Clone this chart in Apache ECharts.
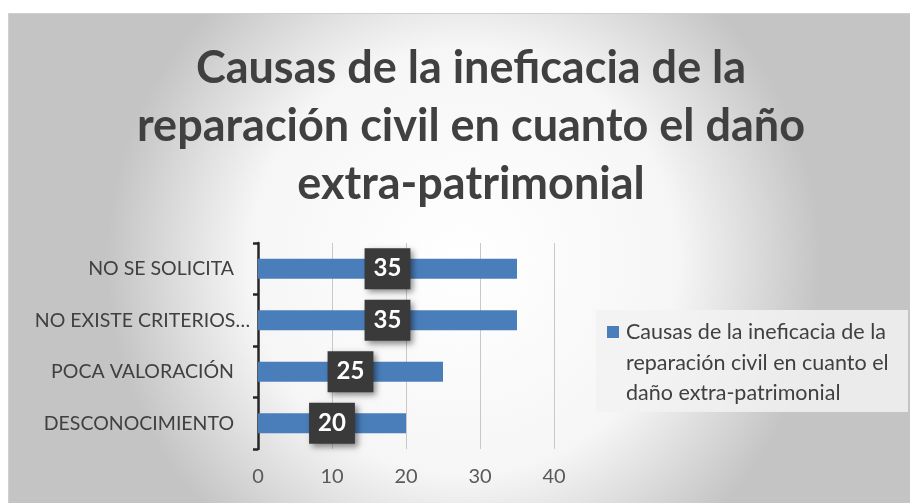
<!DOCTYPE html>
<html><head><meta charset="utf-8">
<script src="https://cdn.jsdelivr.net/npm/echarts@6/dist/echarts.min.js"></script>
<style>html,body{margin:0;padding:0;background:#fff}#c{width:910px;height:503px}</style>
</head><body><div id="c"></div>
<script>
const categories = ['DESCONOCIMIENTO', 'POCA VALORACIÓN', 'NO EXISTE CRITERIOS…', 'NO SE SOLICITA'];
const values = [20, 25, 35, 35];
const xTicks = { min: 0, max: 40, interval: 10 };
const seriesName = 'Causas de la ineficacia de la reparación civil en cuanto el daño extra-patrimonial';
const titleText = 'Causas de la ineficacia de la\nreparación civil en cuanto el daño\nextra-patrimonial';
const legendText = 'Causas de la ineficacia de la\nreparación civil en cuanto el\ndaño extra-patrimonial';

const FONT = 'Lato';
const BAR_COLOR = '#4a7ebb';
const chart = echarts.init(document.getElementById('c'), null, { renderer: 'canvas' });
chart.setOption({
  backgroundColor: '#ffffff',
  animation: false,
  graphic: [{
    type: 'rect', z: -10, silent: true,
    shape: { x: 8.5, y: 13.5, width: 910, height: 495 },
    style: {
      fill: { type: 'radial', x: 0.5, y: 0.5, r: 0.72,
        colorStops: [{ offset: 0, color: '#ffffff' }, { offset: 0.6, color: '#f6f6f6' }, { offset: 1, color: '#c4c4c4' }] },
      stroke: '#cfcfcf', lineWidth: 1
    }
  }, {
    type: 'group', left: 596, top: 310, silent: true,
    children: [{
      type: 'rect', shape: { x: 0, y: 0, width: 312, height: 102 },
      style: { fill: 'rgba(242,242,242,0.85)' }
    }, {
      type: 'rect', shape: { x: 11, y: 16, width: 12, height: 12 },
      style: { fill: BAR_COLOR }
    }, {
      type: 'text', x: 30, y: 7,
      style: { text: legendText, fontFamily: FONT, fontSize: 21.5, fill: '#404040', lineHeight: 30.5, verticalAlign: 'top' }
    }]
  }],
  title: {
    text: titleText, left: 466, top: 34, textAlign: 'center',
    textStyle: { fontFamily: FONT, fontSize: 45, fontWeight: 'bold', color: '#404040', lineHeight: 58 }
  },
  grid: { left: 258, right: 356, top: 243, bottom: 54, containLabel: false },
  xAxis: {
    type: 'value', min: xTicks.min, max: xTicks.max, interval: xTicks.interval,
    axisLine: { show: false }, axisTick: { show: false },
    splitLine: { show: true, lineStyle: { color: '#c8c8c8', width: 1 } },
    axisLabel: { fontFamily: FONT, fontSize: 20, color: '#595959', margin: 18 }
  },
  yAxis: {
    type: 'category', data: categories,
    axisLine: { show: true, lineStyle: { color: '#262626', width: 2.5 } },
    axisTick: { show: true, length: 5, lineStyle: { color: '#262626', width: 2.5 } },
    axisLabel: {
      fontFamily: FONT, fontSize: 19.5, color: '#404040', margin: 8,
      formatter: v => v.endsWith('…') ? '{e|' + v + '}' : '{p|' + v + '}',
      rich: {
        e: { fontFamily: FONT, fontSize: 19.5, color: '#404040' },
        p: { fontFamily: FONT, fontSize: 19.5, color: '#404040', padding: [0, 16, 0, 0] }
      }
    }
  },
  series: [{
    name: seriesName, type: 'bar', data: values, barWidth: '39%',
    itemStyle: { color: BAR_COLOR },
    label: {
      show: true, position: 'inside',
      fontFamily: FONT, fontSize: 24, fontWeight: 'bold', color: '#ffffff',
      backgroundColor: '#3a3a3a', padding: [9, 9, 9, 9], lineHeight: 23,
      shadowBlur: 6, shadowOffsetX: 3, shadowOffsetY: 3, shadowColor: 'rgba(0,0,0,0.45)'
    }
  }]
});
</script></body></html>
